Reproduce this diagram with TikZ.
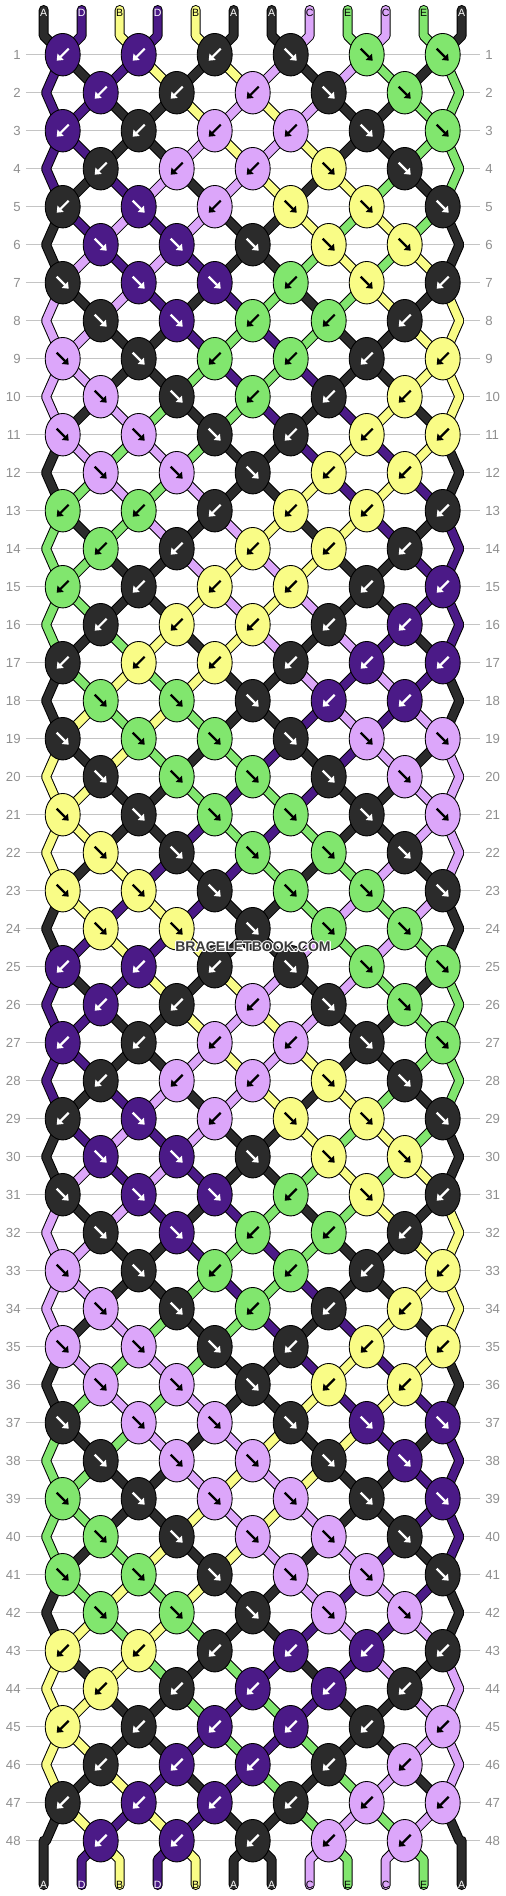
\documentclass[tikz,border=0pt]{standalone}
\usepackage{fontspec}
\setmainfont{Liberation Sans}
\usetikzlibrary{shapes.geometric,arrows.meta}
\definecolor{colA}{HTML}{2B2B2B}
\definecolor{colB}{HTML}{F9FC86}
\definecolor{colC}{HTML}{DCA6FA}
\definecolor{colD}{HTML}{4B1A87}
\definecolor{colE}{HTML}{81E66E}
\definecolor{rulegray}{HTML}{C4C4C4}
\definecolor{numgray}{HTML}{8E8E8E}
\definecolor{markgray}{HTML}{3A3A3A}
\def\tipA{white}\def\tipB{black}\def\tipC{black}\def\tipD{white}\def\tipE{black}
\newcommand\halotext[1]{\foreach \hx/\hy in {0.6/0,-0.6/0,0/0.6,0/-0.6,0.45/0.45,-0.45/0.45,0.45/-0.45,-0.45/-0.45}{\rlap{\kern\hx pt\raisebox{\hy pt}{\textcolor{white}{#1}}}}#1}
\pgfdeclarelayer{strings}
\pgfsetlayers{strings,main}
\tikzset{
  knot/.style={ellipse, draw=black, line width=0.5pt, minimum width=0.7cm, minimum height=0.85cm, inner sep=0pt},
  thread/.style={line width=0.02cm, double distance=0.16cm, line cap=round, line join=round},
  knotarrow/.style={line width=0.045cm, -{Triangle[length=0.11cm,width=0.17cm]}},
  rownum/.style={text=numgray, font=\fontsize{7.5}{9}\selectfont, inner sep=0pt},
  endlabel/.style={font=\fontsize{6}{7}\selectfont, inner sep=0pt},
}
\begin{document}
\begin{tikzpicture}[x=0.02cm, y=-0.02cm]
  \useasboundingbox (0,0) rectangle (506,1896);
  % row numbers and guide lines
  \foreach \rw in {1,...,48} {
    \pgfmathsetmacro\yy{54.7+38*(\rw-1)}
    \node[rownum, anchor=east] (numL\rw) at (21,\yy) {\rw};
    \node[rownum, anchor=west] (numR\rw) at (485,\yy) {\rw};
    \begin{pgfonlayer}{strings}
      \draw[rulegray, line width=0.02cm] ([xshift=0.1cm]numL\rw.east) -- ([xshift=-0.1cm]numR\rw.west);
    \end{pgfonlayer}
  }
  % thread tops
  \foreach \p/\c in {1/A,2/D,3/B,4/D,5/B,6/A,7/A,8/C,9/E,10/C,11/E,12/A} {
    \pgfmathsetmacro\xx{43.7+38*(\p-1)}
    \edef\tc{\csname tip\c\endcsname}
    \coordinate (top\p) at (\xx,10);
    \coordinate (bend\p) at (\xx,35.7);
    \node[endlabel, text=\tc] (lblT\p) at (\xx,12.7) {\c};
    \expandafter\xdef\csname id\p\endcsname{\p}
    \expandafter\xdef\csname clr\p\endcsname{\c}
    \expandafter\xdef\csname path\p\endcsname{(top\p) -- (bend\p)}
  }
  % knots, row by row (f = forward, b = backward)
  \foreach \rw/\dirs in {
    1/{b,b,b,f,f,f}, 2/{b,b,b,f,f}, 3/{b,b,b,b,f,f}, 4/{b,b,b,f,f},
    5/{b,f,b,f,f,f}, 6/{f,f,f,f,f}, 7/{f,f,f,b,f,b}, 8/{f,f,b,b,b},
    9/{f,f,b,b,b,b}, 10/{f,f,b,b,b}, 11/{f,f,f,b,b,b}, 12/{f,f,f,b,b},
    13/{b,b,b,b,b,b}, 14/{b,b,b,b,b}, 15/{b,b,b,b,b,b}, 16/{b,b,b,b,b},
    17/{b,b,b,b,b,b}, 18/{f,f,f,b,b}, 19/{f,f,f,f,f,f}, 20/{f,f,f,f,f},
    21/{f,f,f,f,f,f}, 22/{f,f,f,f,f}, 23/{f,f,f,f,f,f}, 24/{f,f,f,f,f},
    25/{b,b,b,f,f,f}, 26/{b,b,b,f,f}, 27/{b,b,b,b,f,f}, 28/{b,b,b,f,f},
    29/{b,f,b,f,f,f}, 30/{f,f,f,f,f}, 31/{f,f,f,b,f,b}, 32/{f,f,b,b,b},
    33/{f,f,b,b,b,b}, 34/{f,f,b,b,b}, 35/{f,f,f,b,b,b}, 36/{f,f,f,b,b},
    37/{f,f,f,f,f,f}, 38/{f,f,f,f,f}, 39/{f,f,f,f,f,f}, 40/{f,f,f,f,f},
    41/{f,f,f,f,f,f}, 42/{f,f,f,f,f}, 43/{b,b,b,b,b,b}, 44/{b,b,b,b,b},
    45/{b,b,b,b,b,b}, 46/{b,b,b,b,b}, 47/{b,b,b,b,b,b}, 48/{b,b,b,b,b}} {
    \pgfmathsetmacro\yy{54.7+38*(\rw-1)}
    \pgfmathtruncatemacro\odd{mod(\rw,2)}
    \foreach \dir [count=\kn] in \dirs {
      \pgfmathtruncatemacro\lpos{\odd==1 ? 2*\kn-1 : 2*\kn}
      \pgfmathtruncatemacro\rpos{\lpos+1}
      \pgfmathsetmacro\kx{43.7+38*(\lpos-1)+19}
      \edef\li{\csname id\lpos\endcsname}
      \edef\ri{\csname id\rpos\endcsname}
      \if f\dir \edef\cl{\csname clr\li\endcsname}\else \edef\cl{\csname clr\ri\endcsname}\fi
      \edef\tc{\csname tip\cl\endcsname}
      \node[knot, fill=col\cl] (k\rw-\kn) at (\kx,\yy) {};
      \if f\dir
        \draw[knotarrow, \tc] ([shift={(-6,-6)}]k\rw-\kn.center) -- ([shift={(6,6)}]k\rw-\kn.center);
      \else
        \draw[knotarrow, \tc] ([shift={(6,-6)}]k\rw-\kn.center) -- ([shift={(-6,6)}]k\rw-\kn.center);
      \fi
      \expandafter\xdef\csname path\li\endcsname{\csname path\li\endcsname -- (k\rw-\kn.center)}
      \expandafter\xdef\csname path\ri\endcsname{\csname path\ri\endcsname -- (k\rw-\kn.center)}
      \expandafter\xdef\csname id\lpos\endcsname{\ri}
      \expandafter\xdef\csname id\rpos\endcsname{\li}
    }
    \ifnum\odd=0
      \coordinate (edgeL\rw) at (46,\yy);
      \coordinate (edgeR\rw) at (459.4,\yy);
      \edef\li{\csname id1\endcsname}
      \edef\ri{\csname id12\endcsname}
      \expandafter\xdef\csname path\li\endcsname{\csname path\li\endcsname -- (edgeL\rw)}
      \expandafter\xdef\csname path\ri\endcsname{\csname path\ri\endcsname -- (edgeR\rw)}
    \fi
  }
  % thread ends
  \foreach \p in {1,...,12} {
    \pgfmathsetmacro\xx{43.7+38*(\p-1)}
    \pgfmathsetmacro\yb{(\p==1 || \p==12) ? 1840.7 : 1859.7}
    \coordinate (low\p) at (\xx,\yb);
    \coordinate (foot\p) at (\xx,1885);
    \edef\li{\csname id\p\endcsname}
    \edef\cl{\csname clr\li\endcsname}
    \edef\tc{\csname tip\cl\endcsname}
    \node[endlabel, text=\tc] (lblB\p) at (\xx,1884.5) {\cl};
    \expandafter\xdef\csname path\li\endcsname{\csname path\li\endcsname -- (low\p) -- (foot\p)}
  }
  \begin{pgfonlayer}{strings}
    \foreach \s in {1,...,12} {
      \edef\cl{\csname clr\s\endcsname}
      \edef\temp{\noexpand\draw[thread, draw=black, double=col\cl] \csname path\s\endcsname;}
      \temp
    }
  \end{pgfonlayer}
  \node[font=\bfseries\fontsize{8}{8}\selectfont, text=markgray, inner sep=0pt] (mark) at (253,947) {\halotext{BRACELETBOOK.COM}};
\end{tikzpicture}
\end{document}
